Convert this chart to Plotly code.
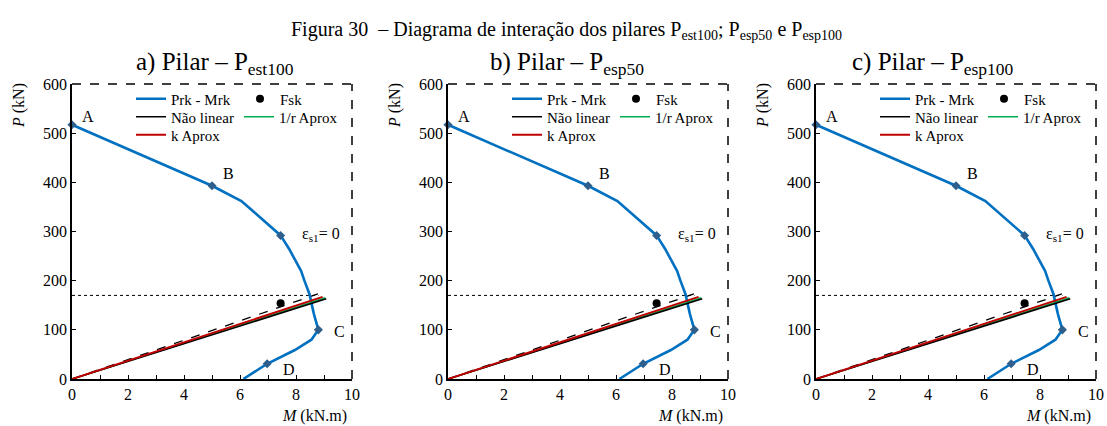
import plotly.graph_objects as go

# Interaction curve Prk - Mrk (kN.m, kN)
M_rk = [0.0, 5.0, 6.05, 7.45, 7.75, 8.02, 8.18, 8.30, 8.48, 8.64, 8.80, 8.55, 7.96, 6.97, 6.12]
P_rk = [517, 393, 362, 292, 265, 238, 220, 200, 173, 132, 100, 80, 59, 31, 0]

# Characteristic points on the curve
key_names = ["A", "B", "ε<sub>s1</sub>= 0", "C", "D"]
M_key = [0.0, 5.0, 7.45, 8.80, 6.97]
P_key = [517, 393, 292, 100, 31]

# Applied load Fsk
M_fsk = [7.45]
P_fsk = [154]

# Load paths
M_nl = [0, 9.08]
P_nl = [0, 163]
M_r = [0, 9.05]
P_r = [0, 165]
M_k = [0, 8.95]
P_k = [0, 167]
M_lim = [0, 8.78]
P_lim = [0, 173]
M_h = [0, 8.8]
P_h = [170, 170]

panel_titles = ["a) Pilar – P<sub>est100</sub>",
                "b) Pilar – P<sub>esp50</sub>",
                "c) Pilar – P<sub>esp100</sub>"]
main_title = ("Figura 30  – Diagrama de interação dos pilares P<sub>est100</sub>; "
              "P<sub>esp50</sub> e P<sub>esp100</sub>")

W, H = 1107, 426
FONT = "Liberation Serif"
BLUE = "#0070C0"
KEY = "#2F5F8C"
GREEN = "#00B050"
RED = "#C00000"

left_px = [72, 448, 816]
width_px = 280
top_px, bottom_px = 84, 379
title_cx = [215, 567, 933]

# legend entry slots: (column x px, row centre y px) in panel a
slots = {"Prk - Mrk": (131, 99), "Não linear": (131, 117), "k Aprox": (131, 135),
         "Fsk": (240, 99), "1/r Aprox": (239, 117)}

fig = go.Figure()
layout = dict(
    width=W, height=H, margin=dict(l=0, r=0, t=0, b=0, autoexpand=False),
    paper_bgcolor="white", plot_bgcolor="white",
    font=dict(family=FONT, size=15, color="black"),
    showlegend=True, annotations=[], shapes=[],
)

leg_count = [0]


def new_legend(name, off):
    leg_count[0] += 1
    lid = "legend" if leg_count[0] == 1 else "legend" + str(leg_count[0])
    sx, sy = slots[name]
    layout[lid] = dict(x=(sx + off) / W, y=1 - sy / H, xanchor="left",
                       yanchor="middle", bgcolor="rgba(0,0,0,0)",
                       borderwidth=0, tracegroupgap=0,
                       font=dict(family=FONT, size=15, color="black"))
    return lid


for i in range(3):
    n = "" if i == 0 else str(i + 1)
    xa, ya = "x" + n, "y" + n
    off = left_px[i] - left_px[0]

    fig.add_trace(go.Scatter(x=M_lim, y=P_lim, mode="lines", xaxis=xa, yaxis=ya,
                             line=dict(color="black", width=1.3, dash="dash"),
                             showlegend=False, hoverinfo="skip"))
    fig.add_trace(go.Scatter(x=M_h, y=P_h, mode="lines", xaxis=xa, yaxis=ya,
                             line=dict(color="black", width=1, dash="dot"),
                             showlegend=False, hoverinfo="skip"))
    fig.add_trace(go.Scatter(x=M_rk, y=P_rk, mode="lines", name="Prk - Mrk",
                             xaxis=xa, yaxis=ya, legend=new_legend("Prk - Mrk", off),
                             line=dict(color=BLUE, width=2.6)))
    fig.add_trace(go.Scatter(x=M_key, y=P_key, mode="markers", xaxis=xa, yaxis=ya,
                             marker=dict(symbol="diamond", size=7, color=KEY),
                             cliponaxis=False, showlegend=False))
    fig.add_trace(go.Scatter(x=M_r, y=P_r, mode="lines", name="1/r Aprox",
                             xaxis=xa, yaxis=ya, legend=new_legend("1/r Aprox", off),
                             line=dict(color=GREEN, width=1.6)))
    fig.add_trace(go.Scatter(x=M_nl, y=P_nl, mode="lines", name="Não linear",
                             xaxis=xa, yaxis=ya, legend=new_legend("Não linear", off),
                             line=dict(color="black", width=1.6)))
    fig.add_trace(go.Scatter(x=M_k, y=P_k, mode="lines", name="k Aprox",
                             xaxis=xa, yaxis=ya, legend=new_legend("k Aprox", off),
                             line=dict(color=RED, width=2)))
    fig.add_trace(go.Scatter(x=M_fsk, y=P_fsk, mode="markers", name="Fsk",
                             xaxis=xa, yaxis=ya, legend=new_legend("Fsk", off),
                             marker=dict(symbol="circle", size=8, color="black")))

    x0 = left_px[i] / W
    x1 = (left_px[i] + width_px) / W
    axis_common = dict(showgrid=False, zeroline=False, showline=True,
                       linecolor="black", linewidth=1.5, ticks="inside",
                       ticklen=4, tickcolor="black", tickwidth=1,
                       automargin=False,
                       tickfont=dict(family=FONT, size=16, color="black"))
    layout["xaxis" + n] = dict(domain=[x0, x1], range=[0, 10], dtick=2, tick0=0,
                               anchor=ya,
                               minor=dict(dtick=1, ticks="inside", ticklen=4,
                                          tickcolor="black"),
                               **axis_common)
    layout["yaxis" + n] = dict(domain=[1 - bottom_px / H, 1 - top_px / H],
                               range=[0, 600], dtick=100, anchor=xa,
                               **axis_common)

    # dashed frame on top and right
    for (a, b, c, d) in [(0, 1, 1, 1), (1, 0, 1, 1)]:
        layout["shapes"].append(dict(type="line", xref=xa + " domain",
                                     yref=ya + " domain", x0=a, y0=b, x1=c, y1=d,
                                     line=dict(color="black", width=1.5, dash="dash")))

    # point labels
    lbl_pos = [(0.3, 534, "left"), (5.6, 418, "center"), (8.14, 294, "left"),
               (9.55, 96, "center"), (7.76, 20, "center")]
    for name, (px, py, anc) in zip(key_names, lbl_pos):
        layout["annotations"].append(dict(text=name, x=px, y=py, xref=xa, yref=ya,
                                          xanchor=anc, yanchor="middle",
                                          showarrow=False,
                                          font=dict(family=FONT, size=16)))

    # axis titles
    layout["annotations"].append(dict(text="<i>P</i> (kN)", x=(left_px[i] - 53) / W,
                                      y=1 - 106 / H, xref="paper", yref="paper",
                                      xanchor="center", yanchor="middle",
                                      textangle=-90, showarrow=False,
                                      font=dict(family=FONT, size=16)))
    layout["annotations"].append(dict(text="<i>M</i> (kN.m)",
                                      x=(left_px[i] + 277) / W, y=1 - 416 / H,
                                      xref="paper", yref="paper", xanchor="right",
                                      yanchor="middle",
                                      showarrow=False, font=dict(family=FONT, size=16)))
    # panel title
    layout["annotations"].append(dict(text=panel_titles[i], x=title_cx[i] / W,
                                      y=1 - 63 / H, xref="paper", yref="paper",
                                      xanchor="center", yanchor="middle",
                                      showarrow=False, font=dict(family=FONT, size=25)))

layout["annotations"].append(dict(text=main_title, x=566 / W, y=1 - 30 / H,
                                  xref="paper", yref="paper", xanchor="center",
                                  yanchor="middle", showarrow=False,
                                  font=dict(family=FONT, size=20)))

fig.update_layout(**layout)
fig.write_html("out.html")
